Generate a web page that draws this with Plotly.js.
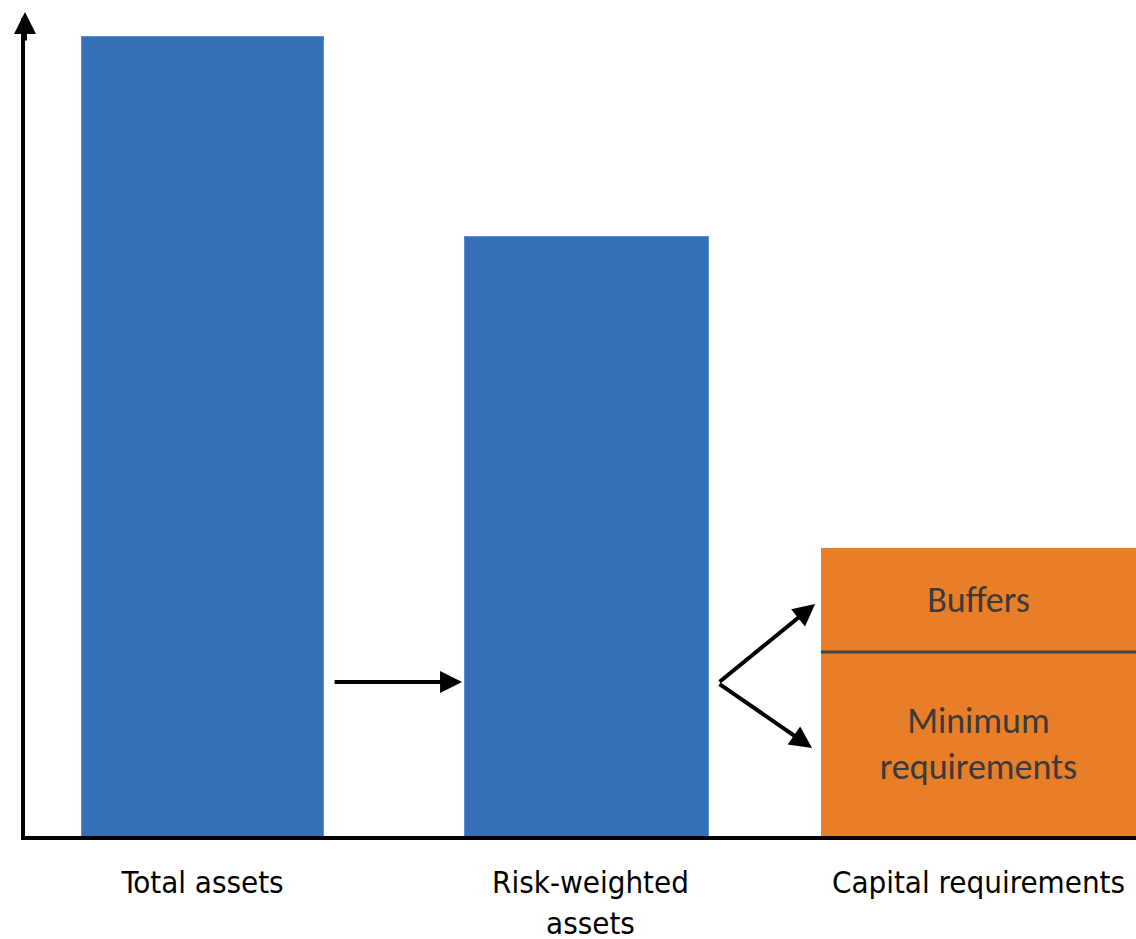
<!DOCTYPE html>
<html>
<head>
<meta charset="utf-8">
<script src="https://cdn.plot.ly/plotly-3.0.1.min.js"></script>
<style>html,body{margin:0;padding:0;background:#fff;}#chart{width:1136px;height:939px;}</style>
</head>
<body>
<div id="chart"></div>
<script>
// ---- data ----
var categories = ['Total assets', 'Risk-weighted<br>assets', 'Capital requirements'];
var assetValues = [100, 75];            // Total assets, Risk-weighted assets
var minimumRequirements = [23];         // Capital requirements: minimum part
var buffers = [13];                     // Capital requirements: buffers part
var segmentLabels = ['Minimum<br>requirements', 'Buffers'];

// ---- layout / style constants ----
var barWidths = [0.626, 0.629, 0.812];
var blueOffsets = [-barWidths[0] / 2, -barWidths[1] / 2 - 0.0103];
var blue = '#3570B6', orange = '#E97E28';
var textFont = {family: 'Carlito, Lato, "Open Sans", sans-serif', size: 36, color: '#3a3a3a'};

var traces = [
  {
    type: 'bar', x: categories.slice(0, 2), y: assetValues,
    width: barWidths.slice(0, 2), offset: blueOffsets,
    marker: {color: blue, line: {color: '#5b8fd2', width: 1}},
    hoverinfo: 'x+y', showlegend: false
  },
  {
    type: 'bar', x: [categories[2]], y: minimumRequirements,
    width: [barWidths[2]], text: [segmentLabels[0]],
    textposition: 'inside', insidetextanchor: 'middle', textangle: 0,
    textfont: textFont, constraintext: 'none',
    marker: {color: orange, line: {width: 0}},
    showlegend: false
  },
  {
    type: 'bar', x: [categories[2]], y: buffers,
    width: [barWidths[2]], text: [segmentLabels[1]],
    textposition: 'inside', insidetextanchor: 'middle', textangle: 0,
    textfont: textFont, constraintext: 'none',
    marker: {color: orange, line: {width: 0}},
    showlegend: false
  }
];

var arrowStyle = {showarrow: true, arrowhead: 2, arrowsize: 1.1, arrowwidth: 4, arrowcolor: '#000', text: ''};
function arrow(o) { return Object.assign({}, arrowStyle, o); }

var layout = {
  width: 1136, height: 939,
  margin: {l: 25, r: 0, t: 18, b: 103},
  paper_bgcolor: '#fff', plot_bgcolor: '#fff',
  barmode: 'stack',
  bargap: 0,
  xaxis: {
    type: 'category', range: [-0.4575, 2.406],
    showline: true, linecolor: '#000', linewidth: 4,
    showgrid: false, zeroline: false,
    ticks: 'outside', ticklen: 16, tickcolor: 'rgba(0,0,0,0)',
    tickfont: {family: '"Liberation Sans Narrow", "Arial Narrow", "DejaVu Sans Condensed", sans-serif', size: 31, color: '#000'},
    fixedrange: true
  },
  yaxis: {
    range: [0, 102.25],
    showline: true, linecolor: '#000', linewidth: 4,
    showgrid: false, zeroline: false, showticklabels: false, ticks: '',
    fixedrange: true
  },
  shapes: [
    { // divider between minimum requirements and buffers
      type: 'line', xref: 'x', yref: 'y',
      x0: 2 - barWidths[2] / 2, x1: 2 + barWidths[2] / 2,
      y0: minimumRequirements[0], y1: minimumRequirements[0],
      line: {color: '#444', width: 3}
    }
  ],
  annotations: [
    // y-axis arrow head
    arrow({xref: 'paper', yref: 'paper', x: 0, y: 1, ax: 0, ay: 30, yshift: 6}),
    // total assets -> risk-weighted assets
    arrow({xref: 'x', yref: 'y', x: 0.669, y: 19.25, ax: -129, ay: 0}),
    // risk-weighted assets -> buffers
    arrow({xref: 'x', yref: 'y', x: 1.579, y: 29.0, ax: -97, ay: 79}),
    // risk-weighted assets -> minimum requirements
    arrow({xref: 'x', yref: 'y', x: 1.571, y: 11.0, ax: -94, ay: -65})
  ]
};

Plotly.newPlot('chart', traces, layout, {displayModeBar: false, staticPlot: true});
</script>
</body>
</html>
